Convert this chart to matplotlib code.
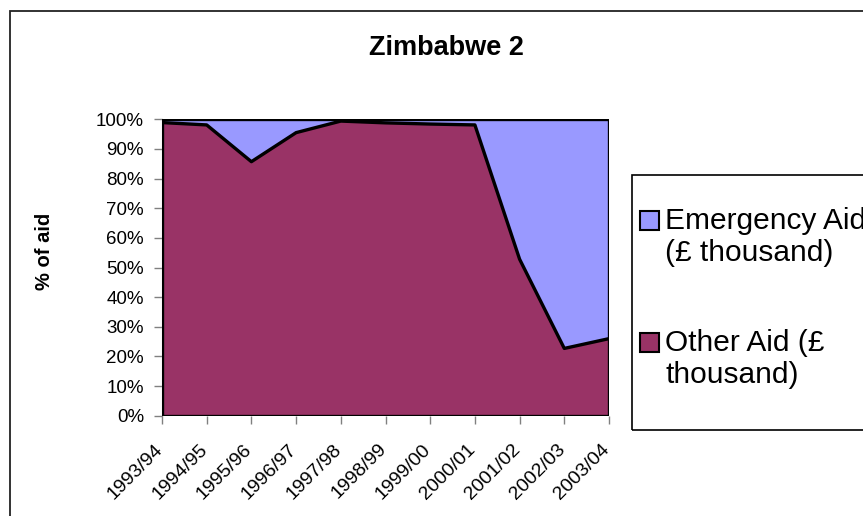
import matplotlib.pyplot as plt
import matplotlib.transforms as mtransforms
import numpy as np
from matplotlib.patches import Rectangle

plt.rcParams['font.family'] = ['Liberation Sans', 'DejaVu Sans']

years = ["1993/94", "1994/95", "1995/96", "1996/97", "1997/98", "1998/99",
         "1999/00", "2000/01", "2001/02", "2002/03", "2003/04"]
other_pct = [98.9, 98.1, 85.7, 95.5, 99.4, 98.8, 98.4, 98.1, 52.8, 22.7, 26.0]
emergency_pct = [100 - v for v in other_pct]

series_names = ["Emergency Aid\n(£ thousand)", "Other Aid (£\nthousand)"]
series_colors = ["#9999FF", "#993366"]

W, H = 863, 516
fig = plt.figure(figsize=(W/100, H/100), dpi=100)
ax = fig.add_axes([162/W, 1-415.7/H, (609-162)/W, (415.7-119.3)/H])

x = np.arange(len(years))
other = np.array(other_pct)
total = other + np.array(emergency_pct)

ax.fill_between(x, 0, other, facecolor=series_colors[1], edgecolor="none", zorder=1)
ax.fill_between(x, other, total, facecolor=series_colors[0], edgecolor="none", zorder=1)
# series outlines
ax.plot(x, other, color="black", lw=2.4, zorder=3)
ax.plot(x, total, color="black", lw=2.4, zorder=3)
ax.plot([x[0], x[0]], [0, 100], color="black", lw=2.4, zorder=3)
ax.plot([x[-1], x[-1]], [0, 100], color="black", lw=2.4, zorder=3)
ax.plot([x[0], x[-1]], [0, 0], color="black", lw=2.4, zorder=3)

ax.set_xlim(x[0], x[-1])
ax.set_ylim(0, 100)
ax.set_yticks(np.arange(0, 101, 10))
ax.set_yticklabels([f"{v}%" for v in range(0, 101, 10)], fontsize=13.5)
ax.set_xticks(x)
ax.set_xticklabels(years, rotation=45, ha="right", rotation_mode="anchor", fontsize=14)
ax.tick_params(axis="both", direction="out", length=6, width=1, color="#808080")
ax.tick_params(axis="y", pad=7)
ax.tick_params(axis="x", pad=12)
shift = mtransforms.ScaledTranslation(-8/100, 0, fig.dpi_scale_trans)
for lab in ax.get_xticklabels():
    lab.set_transform(lab.get_transform() + shift)
for s in ["top", "right", "bottom"]:
    ax.spines[s].set_visible(False)
ax.spines["left"].set_color("#808080")
ax.set_ylabel("% of aid", fontsize=14.5, fontweight="bold")
ax.yaxis.set_label_coords(-0.242, 0.554)

fig.text(446/W, 1-48/H, "Zimbabwe 2", ha="center", va="center",
         fontsize=19.5, fontweight="bold")

# outer chart border (runs off the right and bottom edges)
fig.patches.append(Rectangle((10/W, -0.2), 1.2, 1.2 - 11/H, transform=fig.transFigure,
                             fill=False, edgecolor="#222222", lw=1.3))
# legend frame (also runs off the right edge)
fig.patches.append(Rectangle((632/W, 1-430/H), 0.5, (430-175)/H, transform=fig.transFigure,
                             fill=False, edgecolor="black", lw=1.2))
# legend keys sit beside the first line of each entry
key_tops = [210, 332]
for name, col, top in zip(series_names, series_colors, key_tops):
    fig.patches.append(Rectangle((640/W, 1-(top+20)/H), 19/W, 19/H, transform=fig.transFigure,
                                 facecolor=col, edgecolor="black", lw=1.5))
    fig.text(665/W, 1-(top-3)/H, name, ha="left", va="top", fontsize=21.5, linespacing=1.2)

fig.savefig("out.png", dpi=100)
